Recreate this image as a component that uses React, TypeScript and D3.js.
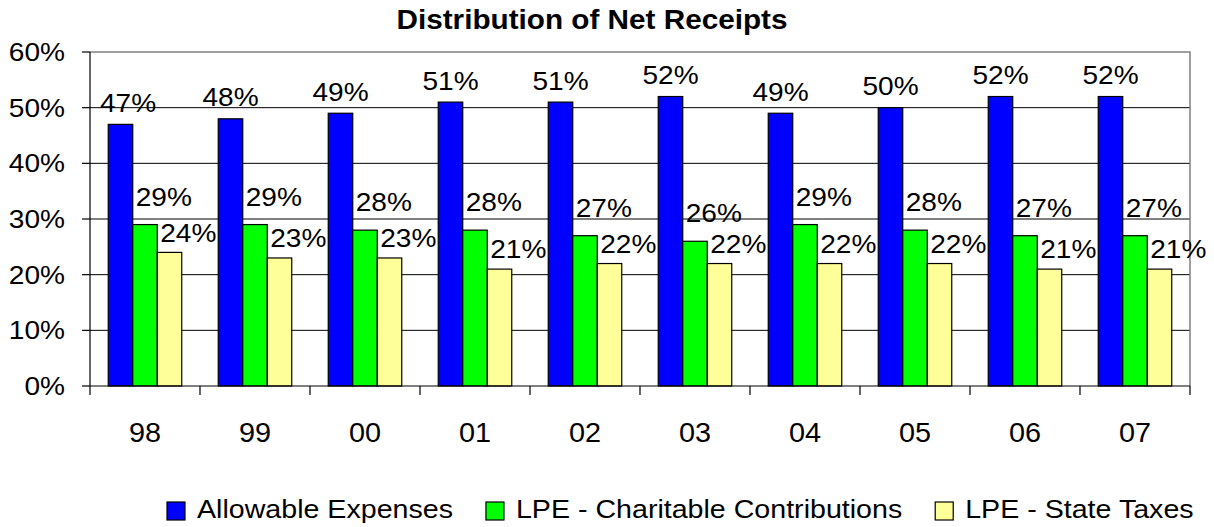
import { useEffect, useRef } from 'react';
import * as d3 from 'd3';

const years = ['98', '99', '00', '01', '02', '03', '04', '05', '06', '07'];
const seriesNames = ['Allowable Expenses', 'LPE - Charitable Contributions', 'LPE - State Taxes'];
const allowable = [47, 48, 49, 51, 51, 52, 49, 50, 52, 52];
const charitable = [29, 29, 28, 28, 27, 26, 29, 28, 27, 27];
const stateTaxes = [24, 23, 23, 21, 22, 22, 22, 22, 21, 21];
const yTicks = [0, 10, 20, 30, 40, 50, 60];
const colors = ['#0000ff', '#00ff00', '#ffff99'];

const FONT = '"Liberation Sans", Arial, sans-serif';
const SX = 1.08;

export default function App() {
  const svgRef = useRef<SVGSVGElement>(null);

  useEffect(() => {
    document.body.style.margin = '0';
    const svg = d3.select(svgRef.current);
    svg.selectAll('*').remove();

    const width = 1214;
    const height = 527;
    const margin = { top: 52, right: 24, bottom: 141, left: 90 };
    const plotBottom = height - margin.bottom;
    const plotRight = width - margin.right;

    const series = [allowable, charitable, stateTaxes];

    const x0 = d3.scaleBand().domain(years).range([margin.left, plotRight]).padding(0);
    const x1 = d3
      .scaleBand()
      .domain(seriesNames)
      .range([0, x0.bandwidth()])
      .paddingInner(0)
      .paddingOuter(0.745);
    const y = d3.scaleLinear().domain([0, 60]).range([plotBottom, margin.top]);

    const txt = (g, x, yy, s, size, anchor = 'middle', weight = 'normal', sx = SX) =>
      g
        .append('text')
        .attr('transform', `translate(${x},${yy}) scale(${sx},1)`)
        .attr('text-anchor', anchor)
        .attr('font-family', FONT)
        .attr('font-size', size)
        .attr('font-weight', weight)
        .attr('fill', '#000')
        .text(s);

    // title
    txt(svg, 592, 29, 'Distribution of Net Receipts', 27, 'middle', 'bold', 1.1);

    // gridlines
    svg
      .append('g')
      .selectAll('line')
      .data(yTicks.filter((t) => t > 0 && t < 60))
      .enter()
      .append('line')
      .attr('x1', margin.left)
      .attr('x2', plotRight)
      .attr('y1', (d) => y(d))
      .attr('y2', (d) => y(d))
      .attr('stroke', '#000')
      .attr('stroke-width', 1);

    // plot border top/right
    svg
      .append('path')
      .attr('d', `M${margin.left},${y(60)}H${plotRight}V${plotBottom}`)
      .attr('fill', 'none')
      .attr('stroke', '#808080')
      .attr('stroke-width', 1.5);

    // bars
    const groups = svg
      .append('g')
      .selectAll('g')
      .data(years)
      .enter()
      .append('g')
      .attr('transform', (d) => `translate(${x0(d)},0)`);

    seriesNames.forEach((name, si) => {
      groups
        .append('rect')
        .attr('x', x1(name))
        .attr('y', (_, i) => y(series[si][i]))
        .attr('width', x1.bandwidth())
        .attr('height', (_, i) => plotBottom - y(series[si][i]))
        .attr('fill', colors[si])
        .attr('stroke', '#000')
        .attr('stroke-width', 1.2);
    });

    // value labels
    const labelG = svg.append('g');
    const offsets = [12.5, 19, 10.7];
    years.forEach((yr, i) => {
      seriesNames.forEach((name, si) => {
        const v = series[si][i];
        const bx = x0(yr) + x1(name);
        const by = y(v) - offsets[si];
        if (si === 0) {
          const t = txt(labelG, bx + x1.bandwidth() / 2, by, `${v}%`, 26, 'middle');
          const w = t.node().getComputedTextLength() * SX;
          const cx = Math.max(bx + x1.bandwidth() / 2, margin.left + 10 + w / 2);
          t.attr('transform', `translate(${cx},${by}) scale(${SX},1)`);
        } else {
          txt(labelG, bx + 3, by, `${v}%`, 26, 'start');
        }
      });
    });

    // y axis
    const yAxis = svg.append('g');
    yAxis
      .append('line')
      .attr('x1', margin.left)
      .attr('x2', margin.left)
      .attr('y1', margin.top)
      .attr('y2', plotBottom)
      .attr('stroke', '#000')
      .attr('stroke-width', 1.2);
    yTicks.forEach((t) => {
      yAxis
        .append('line')
        .attr('x1', margin.left - 8)
        .attr('x2', margin.left)
        .attr('y1', y(t))
        .attr('y2', y(t))
        .attr('stroke', '#000')
        .attr('stroke-width', 1.2);
      txt(yAxis, 65, y(t) + 9, `${t}%`, 26, 'end');
    });

    // x axis
    const xAxis = svg.append('g');
    xAxis
      .append('line')
      .attr('x1', margin.left)
      .attr('x2', plotRight)
      .attr('y1', plotBottom)
      .attr('y2', plotBottom)
      .attr('stroke', '#000')
      .attr('stroke-width', 1.2);
    [...years.map((d) => x0(d)), plotRight].forEach((xx) => {
      xAxis
        .append('line')
        .attr('x1', xx)
        .attr('x2', xx)
        .attr('y1', plotBottom)
        .attr('y2', plotBottom + 9)
        .attr('stroke', '#000')
        .attr('stroke-width', 1.2);
    });
    years.forEach((yr) => {
      txt(xAxis, x0(yr) + x0.bandwidth() / 2, 442, yr, 28, 'middle', 'normal', 1.03);
    });

    // legend
    const legend = svg.append('g');
    const LSX = 1.1;
    let lx = 167;
    seriesNames.forEach((name, si) => {
      legend
        .append('rect')
        .attr('x', lx)
        .attr('y', 502)
        .attr('width', 18)
        .attr('height', 18)
        .attr('fill', colors[si])
        .attr('stroke', '#000')
        .attr('stroke-width', 1.2);
      const t = txt(legend, lx + 30, 518, name, 26, 'start', 'normal', LSX);
      const w = t.node().getComputedTextLength() * LSX;
      lx = lx + 30 + w + 33;
    });
  }, []);

  return <svg ref={svgRef} width={1214} height={527} style={{ display: 'block' }} />;
}
